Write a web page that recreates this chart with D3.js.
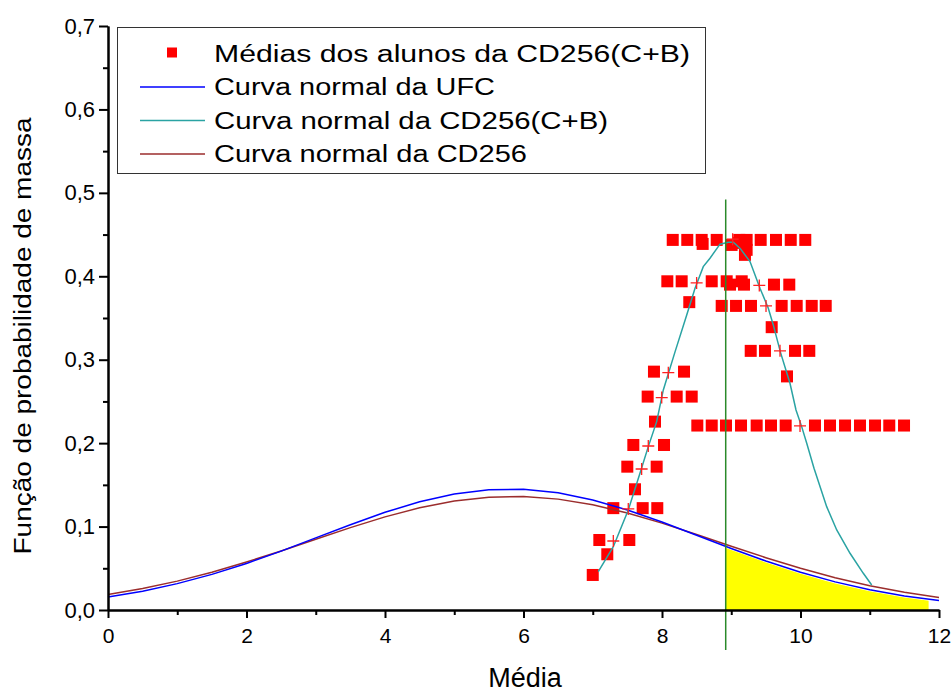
<!DOCTYPE html>
<html>
<head>
<meta charset="utf-8">
<script src="https://cdn.jsdelivr.net/npm/d3@7"></script>
<style>
    body { margin: 0; background: #fff; }
    svg { display: block; }
    text { font-family: "Liberation Sans", Arial, sans-serif; fill: #000; }
</style>
</head>
<body>
<svg id="chart" width="952" height="693"></svg>
<script>
// Axis ticks and labels.
const xTicks = [0, 2, 4, 6, 8, 10, 12];
const xMinorTicks = [1, 3, 5, 7, 9, 11];
const yTicks = [0, 0.1, 0.2, 0.3, 0.4, 0.5, 0.6, 0.7];
const yTickLabels = ['0,0', '0,1', '0,2', '0,3', '0,4', '0,5', '0,6', '0,7'];
const yMinorTicks = [0.05, 0.15, 0.25, 0.35, 0.45, 0.55, 0.65];

const legendLabels = [
    'Médias dos alunos da CD256(C+B)',
    'Curva normal da UFC',
    'Curva normal da CD256(C+B)',
    'Curva normal da CD256'
];

// Médias dos alunos (red squares).
const studentX = [
    8.155, 8.365, 8.573, 8.79, 9.116, 9.222, 9.425, 9.646, 9.859, 10.069,
    8.587, 9.005, 9.10, 9.222, 9.198,
    8.077, 8.284, 8.718, 8.934, 9.151,
    8.982, 9.184, 9.617, 9.838,
    8.862, 9.069, 9.285, 9.728, 9.945, 10.162, 10.364,
    8.394, 9.584,
    9.281, 9.487, 9.921, 10.127,
    9.805,
    8.510, 8.718, 8.924, 9.141, 9.367, 9.574, 9.786, 10.209, 10.426, 10.643, 10.859, 11.076, 11.282, 11.495,
    7.884, 8.318,
    7.793, 8.212, 8.429,
    7.899,
    7.586, 8.029,
    7.499, 7.923,
    7.61,
    7.297, 7.721, 7.932,
    7.095, 7.528,
    7.21,
    7.0
];
const studentY = [
    0.4436, 0.4436, 0.4436, 0.4436, 0.4436, 0.4436, 0.4436, 0.4436, 0.4436, 0.4436,
    0.4388, 0.4376, 0.4400, 0.4317, 0.4257,
    0.394, 0.394, 0.394, 0.394, 0.394,
    0.390, 0.390, 0.390, 0.390,
    0.3645, 0.3645, 0.3645, 0.3645, 0.3645, 0.3645, 0.3645,
    0.369, 0.339,
    0.3106, 0.3106, 0.3106, 0.3106,
    0.280,
    0.2211, 0.2211, 0.2211, 0.2211, 0.2211, 0.2211, 0.2211, 0.2211, 0.2211, 0.2211, 0.2211, 0.2211, 0.2211, 0.2211,
    0.2857, 0.2857,
    0.2558, 0.2558, 0.2558,
    0.2258,
    0.1978, 0.1978,
    0.1718, 0.1718,
    0.1447,
    0.1221, 0.1221, 0.1221,
    0.0839, 0.0839,
    0.0668,
    0.042
];

// Small crosses lying on the CD256(C+B) curve.
const crossX = [9.02, 8.5, 9.405, 9.502, 9.704, 9.993, 8.091, 7.996, 7.802, 7.706, 7.513, 7.297];
const crossY = [0.4445, 0.392, 0.389, 0.3645, 0.3106, 0.2206, 0.2845, 0.2546, 0.1966, 0.169, 0.1211, 0.0827];

// Normal curves.
const curveX = [0, 0.5, 1, 1.5, 2, 2.5, 3, 3.5, 4, 4.5, 5, 5.5, 6, 6.5, 7, 7.5, 8, 8.5, 9, 9.5, 10, 10.5, 11, 11.5, 12];
const ufcY = [0.0157, 0.0226, 0.0316, 0.0427, 0.0558, 0.0706, 0.0864, 0.1022, 0.1171, 0.1297, 0.1391, 0.1442, 0.1447,
    0.1405, 0.1319, 0.1199, 0.1054, 0.0896, 0.0737, 0.0587, 0.0452, 0.0337, 0.0243, 0.0169, 0.0114];
const cd256Y = [0.0185, 0.0257, 0.0346, 0.0452, 0.0575, 0.0708, 0.0849, 0.0987, 0.1116, 0.1225, 0.1306, 0.1352, 0.1360,
    0.1329, 0.1261, 0.1162, 0.1041, 0.0905, 0.0764, 0.0627, 0.0500, 0.0387, 0.0290, 0.0212, 0.0150];

const cbX = [7.080, 7.297, 7.513, 7.682, 7.802, 7.923, 8.019, 8.188, 8.357, 8.477, 8.596, 8.693, 8.838, 8.958, 9.030,
    9.126, 9.271, 9.415, 9.535, 9.607, 9.711, 9.848, 9.935, 10.017, 10.090, 10.195, 10.378, 10.523, 10.715, 10.907, 11.028];
const cbY = [0.0459, 0.0759, 0.1199, 0.1639, 0.1958, 0.2258, 0.2638, 0.3094, 0.3537, 0.3857, 0.4116, 0.4217, 0.4385, 0.4409, 0.4409,
    0.4337, 0.4176, 0.3857, 0.3617, 0.3417, 0.3088, 0.2718, 0.2398, 0.2198, 0.1998, 0.1699, 0.1239, 0.0959, 0.0680, 0.0440, 0.0300];

// Mean line and shaded tail.
const meanX = 8.92;
const meanLineY = [-0.048, 0.492];
const shadeRange = [8.92, 11.85];

let svg = d3.select('#chart');

let x = d3.scaleLinear().domain([0, 12]).range([108, 939]);
let y = d3.scaleLinear().domain([0, 0.7]).range([610, 26]);

let ufc = curveX.map((d, i) => ({x: d, y: ufcY[i]}));
let cd256 = curveX.map((d, i) => ({x: d, y: cd256Y[i]}));
let cb = cbX.map((d, i) => ({x: d, y: cbY[i]}));
let students = studentX.map((d, i) => ({x: d, y: studentY[i]}));
let crosses = crossX.map((d, i) => ({x: d, y: crossY[i]}));

let line = d3.line().x(d => x(d.x)).y(d => y(d.y));

// Yellow tail under the UFC curve.
svg.append('clipPath')
    .attr('id', 'tail')
  .append('rect')
    .attr('x', x(shadeRange[0]))
    .attr('y', 0)
    .attr('width', x(shadeRange[1]) - x(shadeRange[0]))
    .attr('height', y(0));

svg.append('path')
    .datum(ufc)
    .attr('clip-path', 'url(#tail)')
    .attr('fill', '#ffff00')
    .attr('d', d3.area().x(d => x(d.x)).y0(y(0)).y1(d => y(d.y) + 1.5));

// Student averages.
svg.append('g')
    .selectAll('rect')
    .data(students)
  .enter().append('rect')
    .attr('x', d => x(d.x) - 6)
    .attr('y', d => y(d.y) - 6)
    .attr('width', 12)
    .attr('height', 12)
    .attr('fill', '#ff0000');

// Curves.
svg.append('path')
    .datum(cd256)
    .attr('fill', 'none')
    .attr('stroke', '#9b2d2d')
    .attr('stroke-width', 1.5)
    .attr('d', line);

svg.append('path')
    .datum(ufc)
    .attr('fill', 'none')
    .attr('stroke', '#0000ff')
    .attr('stroke-width', 1.5)
    .attr('d', line);

svg.append('path')
    .datum(cb)
    .attr('fill', 'none')
    .attr('stroke', '#2aa3a3')
    .attr('stroke-width', 1.5)
    .attr('d', line);

// Crosses on top of the curve.
svg.append('g')
    .selectAll('path')
    .data(crosses)
  .enter().append('path')
    .attr('d', d => 'M' + (x(d.x) - 6) + ',' + y(d.y) + 'h12M' + x(d.x) + ',' + (y(d.y) - 6) + 'v12')
    .attr('stroke', '#ff2020')
    .attr('stroke-width', 1.3)
    .attr('fill', 'none');

// Mean line.
svg.append('line')
    .attr('x1', x(meanX))
    .attr('x2', x(meanX))
    .attr('y1', y(meanLineY[0]))
    .attr('y2', y(meanLineY[1]))
    .attr('stroke', '#2b8a2b')
    .attr('stroke-width', 1.5);

// Axes.
let xAxis = svg.append('g')
    .attr('transform', 'translate(0,' + y(0) + ')')
    .call(d3.axisBottom(x).tickValues(xTicks).tickSize(8).tickSizeOuter(0).tickPadding(10));
svg.append('g')
    .attr('transform', 'translate(0,' + y(0) + ')')
    .call(d3.axisBottom(x).tickValues(xMinorTicks).tickSize(5).tickSizeOuter(0).tickFormat(''));

let yAxis = svg.append('g')
    .attr('transform', 'translate(' + x(0) + ',0)')
    .call(d3.axisLeft(y).tickValues(yTicks).tickFormat((d, i) => yTickLabels[i]).tickSize(9).tickSizeOuter(0).tickPadding(4));
svg.append('g')
    .attr('transform', 'translate(' + x(0) + ',0)')
    .call(d3.axisLeft(y).tickValues(yMinorTicks).tickSize(5).tickSizeOuter(0).tickFormat(''));

svg.selectAll('.domain, .tick line')
    .attr('stroke', '#000')
    .attr('stroke-width', 2);
xAxis.selectAll('text').attr('font-size', 21).attr('font-family', null);
yAxis.selectAll('text').attr('font-size', 22).attr('font-family', null);

// Axis titles.
svg.append('text')
    .attr('x', 525)
    .attr('y', 687)
    .attr('text-anchor', 'middle')
    .attr('font-size', 27)
    .text('Média');

svg.append('text')
    .attr('transform', 'translate(31,336) rotate(-90)')
    .attr('text-anchor', 'middle')
    .attr('font-size', 23.5)
    .attr('textLength', 437)
    .attr('lengthAdjust', 'spacingAndGlyphs')
    .text('Função de probabilidade de massa');

// Legend.
let legend = svg.append('g');
legend.append('rect')
    .attr('x', 117.5)
    .attr('y', 27.5)
    .attr('width', 588)
    .attr('height', 146)
    .attr('fill', '#fff')
    .attr('stroke', '#333')
    .attr('stroke-width', 1);

const legendColors = [null, '#0000ff', '#2aa3a3', '#9b2d2d'];
const legendWidths = [476, 281, 394, 313];
legendLabels.forEach((label, i) => {
    let baseline = 61.5 + i * 33.5;
    if (i === 0) {
        legend.append('rect')
            .attr('x', 167)
            .attr('y', baseline - 14)
            .attr('width', 10)
            .attr('height', 10)
            .attr('fill', '#ff0000');
    } else {
        legend.append('line')
            .attr('x1', 140)
            .attr('x2', 205)
            .attr('y1', baseline - 8)
            .attr('y2', baseline - 8)
            .attr('stroke', legendColors[i])
            .attr('stroke-width', 1.5);
    }
    legend.append('text')
        .attr('x', 214)
        .attr('y', baseline)
        .attr('font-size', 23)
        .attr('textLength', legendWidths[i])
        .attr('lengthAdjust', 'spacingAndGlyphs')
        .text(label);
});
</script>
</body>
</html>
